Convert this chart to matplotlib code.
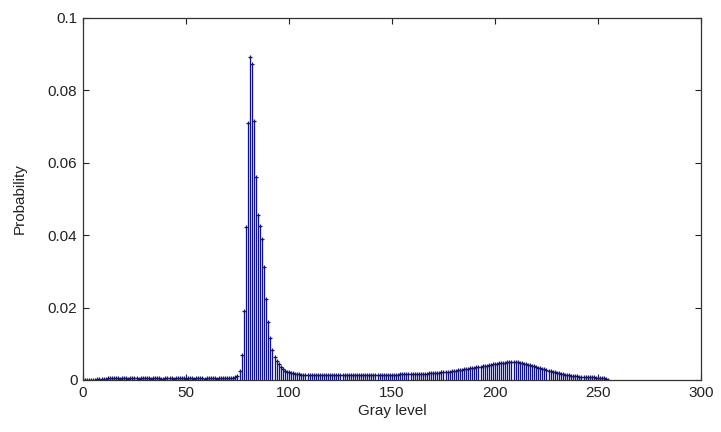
import matplotlib
matplotlib.use("Agg")
import matplotlib.pyplot as plt
import numpy as np

# Normalized gray-level histogram (probability per gray level 0..255)
gray_levels = list(range(256))
probability = [
    # 0-15
    0.0, 0.0, 0.0, 0.0, 0.0, 0.0, 0.0001, 0.0002, 0.0003, 0.0004, 0.0004, 0.0004, 0.0005, 0.0005, 0.0005, 0.0005,
    # 16-31
    0.0005, 0.0005, 0.0004, 0.0005, 0.0005, 0.0005, 0.0004, 0.0005, 0.0005, 0.0005, 0.0005, 0.0004, 0.0005, 0.0005, 0.0005, 0.0005,
    # 32-47
    0.0005, 0.0004, 0.0005, 0.0005, 0.0005, 0.0005, 0.0004, 0.0004, 0.0005, 0.0005, 0.0005, 0.0005, 0.0004, 0.0005, 0.0005, 0.0005,
    # 48-63
    0.0005, 0.0005, 0.0004, 0.0005, 0.0005, 0.0005, 0.0004, 0.0005, 0.0005, 0.0005, 0.0005, 0.0004, 0.0005, 0.0005, 0.0005, 0.0005,
    # 64-79
    0.0005, 0.0004, 0.0005, 0.0005, 0.0005, 0.0005, 0.0005, 0.0005, 0.0005, 0.0006, 0.0007, 0.0010, 0.0025, 0.0069, 0.0190, 0.0422,
    # 80-95
    0.0710, 0.0893, 0.0873, 0.0716, 0.0560, 0.0456, 0.0424, 0.0390, 0.0312, 0.0223, 0.0160, 0.0117, 0.0083, 0.0064, 0.0052, 0.0043,
    # 96-111
    0.0036, 0.0030, 0.0026, 0.0023, 0.0021, 0.0019, 0.0018, 0.0017, 0.0016, 0.0016, 0.0015, 0.0015, 0.0014, 0.0015, 0.0014, 0.0014,
    # 112-127
    0.0014, 0.0013, 0.0014, 0.0014, 0.0013, 0.0013, 0.0014, 0.0014, 0.0014, 0.0015, 0.0015, 0.0014, 0.0014, 0.0015, 0.0015, 0.0014,
    # 128-143
    0.0014, 0.0014, 0.0013, 0.0013, 0.0014, 0.0013, 0.0013, 0.0013, 0.0014, 0.0014, 0.0014, 0.0014, 0.0015, 0.0015, 0.0015, 0.0014,
    # 144-159
    0.0014, 0.0014, 0.0015, 0.0015, 0.0015, 0.0015, 0.0015, 0.0015, 0.0015, 0.0015, 0.0016, 0.0016, 0.0016, 0.0016, 0.0016, 0.0016,
    # 160-175
    0.0016, 0.0016, 0.0016, 0.0017, 0.0017, 0.0017, 0.0017, 0.0017, 0.0018, 0.0018, 0.0018, 0.0019, 0.0019, 0.0020, 0.0021, 0.0022,
    # 176-191
    0.0022, 0.0023, 0.0023, 0.0024, 0.0025, 0.0026, 0.0027, 0.0028, 0.0028, 0.0029, 0.0030, 0.0031, 0.0032, 0.0033, 0.0034, 0.0035,
    # 192-207
    0.0036, 0.0037, 0.0038, 0.0039, 0.0040, 0.0041, 0.0042, 0.0043, 0.0044, 0.0045, 0.0046, 0.0046, 0.0047, 0.0048, 0.0049, 0.0050,
    # 208-223
    0.0050, 0.0050, 0.0049, 0.0049, 0.0048, 0.0047, 0.0045, 0.0044, 0.0042, 0.0041, 0.0039, 0.0038, 0.0036, 0.0034, 0.0033, 0.0031,
    # 224-239
    0.0029, 0.0028, 0.0026, 0.0024, 0.0023, 0.0021, 0.0020, 0.0018, 0.0017, 0.0016, 0.0015, 0.0014, 0.0013, 0.0012, 0.0011, 0.0010,
    # 240-255
    0.0010, 0.0009, 0.0009, 0.0008, 0.0008, 0.0008, 0.0007, 0.0007, 0.0007, 0.0006, 0.0006, 0.0006, 0.0006, 0.0005, 0.0004, 0.0,
]

x_ticks = [0, 50, 100, 150, 200, 250, 300]
y_ticks = [0, 0.02, 0.04, 0.06, 0.08, 0.1]
y_tick_labels = ["0", "0.02", "0.04", "0.06", "0.08", "0.1"]

plt.rcParams["font.family"] = ["Liberation Sans", "DejaVu Sans"]

fig = plt.figure(figsize=(7.21, 4.32), dpi=100)
ax = fig.add_axes([0.1151, 0.1204, 0.8571, 0.8380])

stem_color = "#0e0e9c"
markerline, stemlines, baseline = ax.stem(
    gray_levels, probability, linefmt="-", markerfmt="+", basefmt=" "
)
plt.setp(stemlines, color=stem_color, linewidth=0.9)
plt.setp(markerline, color="#16166a", markersize=3, markeredgewidth=0.9)

ax.set_xlim(0, 300)
ax.set_ylim(0, 0.1)
ax.set_xticks(x_ticks)
ax.set_yticks(y_ticks)
ax.set_yticklabels(y_tick_labels)
ax.tick_params(direction="in", top=True, right=True, length=4, width=0.8,
               labelsize=11, colors="#222222", pad=4)
for sp in ax.spines.values():
    sp.set_linewidth(0.9)
    sp.set_color("#333333")

ax.set_xlabel("Gray level", fontsize=11, color="#222222", labelpad=3)
ax.set_ylabel("Probability", fontsize=11, color="#222222", labelpad=15)

fig.savefig("out.png", dpi=100)
